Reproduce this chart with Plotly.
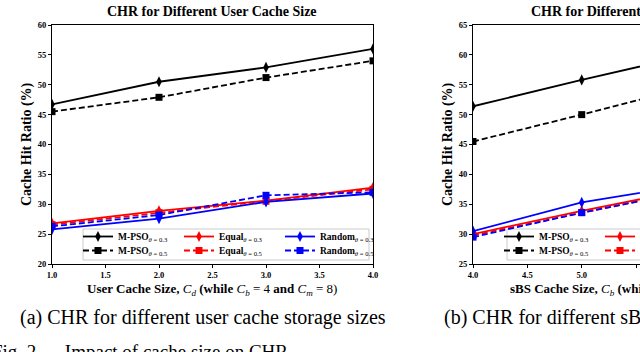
import plotly.graph_objects as go

W, H = 640, 352

# left panel: user cache size
user_cache = [1.0, 2.0, 3.0, 4.0]
mpso_03_a = [46.7, 50.5, 52.9, 56.0]
mpso_05_a = [45.5, 47.9, 51.2, 54.0]
equal_03_a = [26.8, 28.9, 30.6, 32.8]
equal_05_a = [26.6, 28.6, 30.5, 32.5]
random_03_a = [25.8, 27.6, 30.4, 31.8]
random_05_a = [26.3, 28.2, 31.5, 32.0]

# right panel: sBS cache size (only the left part is visible in the crop)
sbs_cache = [4.0, 5.0, 6.0]
mpso_03_b = [51.4, 55.8, 60.0]
mpso_05_b = [45.5, 50.0, 54.7]
equal_03_b = [30.0, 33.9, 37.5]
equal_05_b = [29.8, 33.6, 37.3]
random_03_b = [30.5, 35.3, 38.3]
random_05_b = [29.5, 33.6, 37.2]

labels = ["<b>M-PSO</b><sub><i>θ</i> = 0.3</sub>", "<b>M-PSO</b><sub><i>θ</i> = 0.5</sub>",
          "<b>Equal</b><sub><i>θ</i> = 0.3</sub>", "<b>Equal</b><sub><i>θ</i> = 0.5</sub>",
          "<b>Random</b><sub><i>θ</i> = 0.3</sub>", "<b>Random</b><sub><i>θ</i> = 0.5</sub>"]
colors = ["black", "black", "red", "red", "blue", "blue"]
serif = "Liberation Serif"


def px(x, y):
    return x / W, 1 - y / H


fig = go.Figure()

panels = [
    (user_cache, [mpso_03_a, mpso_05_a, equal_03_a, equal_05_a, random_03_a, random_05_a], "x", "y", ("legend", "legend2")),
    (sbs_cache, [mpso_03_b, mpso_05_b, equal_03_b, equal_05_b, random_03_b, random_05_b], "x2", "y2", ("legend3", "legend4")),
]
for xs, series, xa, ya, legs in panels:
    for i, ys in enumerate(series):
        solid = i % 2 == 0
        fig.add_scatter(
            x=xs, y=ys, xaxis=xa, yaxis=ya, name=labels[i], mode="lines+markers",
            line=dict(color=colors[i], width=1.8, dash="solid" if solid else "6px,3px"),
            marker=dict(symbol="diamond-tall" if solid else "square", size=8 if solid else 7, color=colors[i]),
            legend=legs[0] if solid else legs[1], legendrank=i,
        )

axis_common = dict(showline=True, linecolor="black", linewidth=1, ticks="outside", ticklen=3,
                   tickcolor="black", showgrid=False, zeroline=False,
                   tickfont=dict(family=serif, size=8.5, color="black"))

x0, y_top = px(52, 25)
x1, y_bot = px(373, 264)
x2, _ = px(473, 0)

fig.update_layout(
    width=W, height=H, margin=dict(l=0, r=0, t=0, b=0, autoexpand=False),
    paper_bgcolor="white", plot_bgcolor="white",
    xaxis=dict(domain=[x0, x1], range=[1, 4], tickvals=[1, 1.5, 2, 2.5, 3, 3.5, 4],
               ticktext=["<b>%.1f</b>" % v for v in [1, 1.5, 2, 2.5, 3, 3.5, 4]],
               mirror=True, anchor="y", **axis_common),
    yaxis=dict(domain=[y_bot, y_top], range=[20, 60], tickvals=list(range(20, 61, 5)),
               ticktext=["<b>%d</b>" % v for v in range(20, 61, 5)],
               mirror=True, anchor="x", **axis_common),
    xaxis2=dict(domain=[x2, 1], range=[4, 5.536], tickvals=[4, 4.5, 5, 5.5],
                ticktext=["<b>%.1f</b>" % v for v in [4, 4.5, 5, 5.5]],
                mirror=True, anchor="y2", **axis_common),
    yaxis2=dict(domain=[y_bot, y_top], range=[25, 65], tickvals=list(range(25, 66, 5)),
                ticktext=["<b>%d</b>" % v for v in range(25, 66, 5)],
                mirror=False, anchor="x2", **axis_common),
)

leg_font = dict(family=serif, size=9.5, color="black")
for name, lx, ly in [("legend", 78, 222), ("legend2", 78, 236), ("legend3", 499, 222), ("legend4", 499, 236)]:
    lxp, lyp = px(lx, ly)
    fig.update_layout({name: dict(orientation="h", x=lxp, y=lyp, xanchor="left", yanchor="top",
                                  entrywidth=56, bgcolor="rgba(0,0,0,0)", borderwidth=0,
                                  font=leg_font, itemwidth=30, tracegroupgap=0)})

# legend frames
for bx0, bx1 in [(83, 369), (507, 700)]:
    a, b = px(bx0, 229)
    c, d = px(bx1, 260)
    fig.add_shape(type="rect", xref="paper", yref="paper", x0=a, y0=d, x1=c, y1=b,
                  line=dict(color="#cccccc", width=1), fillcolor="rgba(255,255,255,0.8)", layer="below")

texts = [
    (212, 12, "<b>CHR for Different User Cache Size</b>", 14, "center"),
    (633, 12, "<b>CHR for Different sBS Cache Size</b>", 14, "center"),
    (212, 289, "<b>User Cache Size, </b><i>C<sub>d</sub></i><b> (while </b><i>C<sub>b</sub></i> = 4 <b>and </b><i>C<sub>m</sub></i> = 8)", 13, "center"),
    (633, 289, "<b>sBS Cache Size, </b><i>C<sub>b</sub></i><b> (while </b><i>C<sub>d</sub></i> = 2 <b>and </b><i>C<sub>m</sub></i> = 8)", 13, "center"),
    (18, 317, "(a) CHR for different user cache storage sizes", 20, "left"),
    (442, 317, "(b) CHR for different sBS cache storage sizes", 20, "left"),
    (-10, 351, "Fig. 2.&nbsp;&nbsp;&nbsp;&nbsp; Impact of cache size on CHR.", 19, "left"),
]
for tx, ty, t, sz, anc in texts:
    a, b = px(tx, ty)
    fig.add_annotation(x=a, y=b, xref="paper", yref="paper", text=t, showarrow=False,
                       xanchor=anc, yanchor="middle", font=dict(family=serif, size=sz, color="black"))

for tx in [27, 448]:
    a, b = px(tx, 144)
    fig.add_annotation(x=a, y=b, xref="paper", yref="paper", text="<b>Cache Hit Ratio (%)</b>",
                       showarrow=False, textangle=-90, xanchor="center", yanchor="middle",
                       font=dict(family=serif, size=14, color="black"))

fig.write_html("out.html", config={"displayModeBar": False},
               post_script="document.body.style.margin='0';")
